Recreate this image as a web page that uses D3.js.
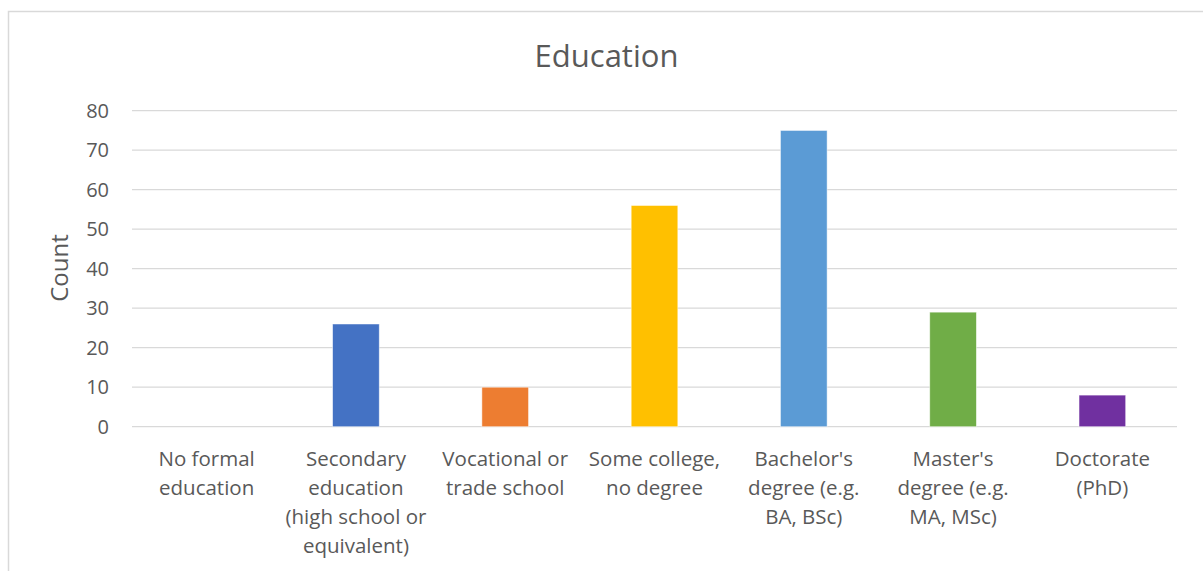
<!DOCTYPE html>
<html>
<head>
<meta charset="utf-8">
<script src="https://cdn.jsdelivr.net/npm/d3@7"></script>
<style>
  html, body { margin: 0; padding: 0; background: #fff; }
  svg { display: block; }
  text { font-family: "Open Sans", sans-serif; fill: #595959; }
</style>
</head>
<body>
<svg id="chart" width="1203" height="571"></svg>
<script>
const categories = [
  ["No formal", "education"],
  ["Secondary", "education", "(high school or", "equivalent)"],
  ["Vocational or", "trade school"],
  ["Some college,", "no degree"],
  ["Bachelor's", "degree (e.g.", "BA, BSc)"],
  ["Master's", "degree (e.g.", "MA, MSc)"],
  ["Doctorate", "(PhD)"]
];
const counts = [0, 26, 10, 56, 75, 29, 8];
const colors = ["#4472C4", "#4472C4", "#ED7D31", "#FFC000", "#5B9BD5", "#70AD47", "#7030A0"];
const yTicks = [0, 10, 20, 30, 40, 50, 60, 70, 80];
const title = "Education";
const yTitle = "Count";

const svg = d3.select("#chart");
const W = 1203, H = 571;

// chart frame (top and left edges visible)
svg.append("path")
  .attr("d", `M8.5,${H} L8.5,11.5 L${W},11.5`)
  .attr("fill", "none")
  .attr("stroke", "#d9d9d9")
  .attr("stroke-width", 1.5);

const plot = { left: 132, right: 1177, top: 110.7, bottom: 426.7 };

const keys = categories.map((c, i) => i);
const x = d3.scaleBand()
  .domain(keys)
  .range([plot.left, plot.right])
  .paddingInner(0.6875)
  .paddingOuter(0.34375);

const y = d3.scaleLinear().domain([0, 80]).range([plot.bottom, plot.top]);

// gridlines
svg.append("g")
  .selectAll("line")
  .data(yTicks)
  .join("line")
  .attr("x1", plot.left)
  .attr("x2", plot.right)
  .attr("y1", d => y(d))
  .attr("y2", d => y(d))
  .attr("stroke", "#d9d9d9")
  .attr("stroke-width", 1.3);

// y tick labels
svg.append("g")
  .selectAll("text")
  .data(yTicks)
  .join("text")
  .attr("x", 109)
  .attr("y", d => y(d))
  .attr("dy", "0.35em")
  .attr("text-anchor", "end")
  .attr("font-size", 20)
  .text(d => d);

// bars
svg.append("g")
  .selectAll("rect")
  .data(counts)
  .join("rect")
  .attr("x", (d, i) => x(i))
  .attr("width", x.bandwidth())
  .attr("y", d => y(d))
  .attr("height", d => y(0) - y(d))
  .attr("fill", (d, i) => colors[i])
  .attr("stroke", "#ffffff")
  .attr("stroke-opacity", 0.6)
  .attr("stroke-width", 0.8)
  .attr("display", d => d > 0 ? null : "none");

// category labels
const lab = svg.append("g")
  .selectAll("text")
  .data(categories)
  .join("text")
  .attr("text-anchor", "middle")
  .attr("font-size", 20.5)
  .attr("x", (d, i) => x(i) + x.bandwidth() / 2)
  .attr("y", 466);
lab.selectAll("tspan")
  .data(d => d)
  .join("tspan")
  .attr("x", function() { return d3.select(this.parentNode).attr("x"); })
  .attr("dy", (d, j) => j === 0 ? 0 : 29)
  .text(d => d);

// title
svg.append("text")
  .attr("x", 606.5)
  .attr("y", 66.5)
  .attr("text-anchor", "middle")
  .attr("font-size", 31)
  .text(title);

// y axis title
svg.append("text")
  .attr("transform", "translate(68,268) rotate(-90)")
  .attr("text-anchor", "middle")
  .attr("font-size", 24)
  .text(yTitle);
</script>
</body>
</html>
